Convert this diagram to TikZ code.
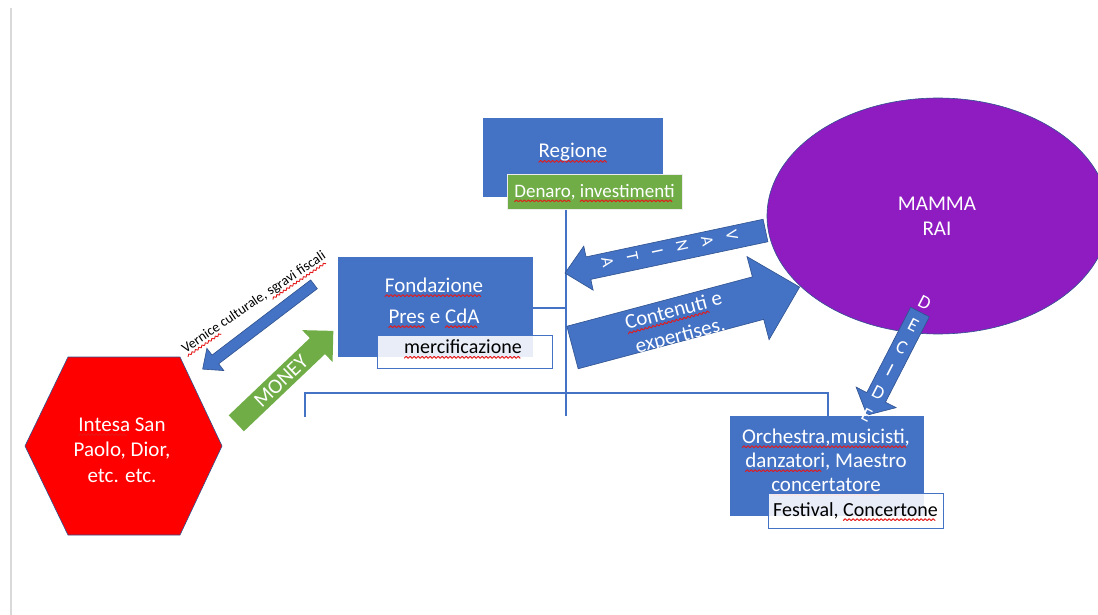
\documentclass[tikz,border=0pt]{standalone}
\usepackage{fontspec}
\setmainfont{Carlito}
\usetikzlibrary{shapes.geometric}
\newsavebox\wavebox
\newsavebox\spellbox
\sbox\wavebox{\hbox to 4pt{\special{pdf:content q 0.9 0.1 0.1 RG 0.9 w 1 j 0 0 m 2 2 l 4 0 l S Q}\hfil}}
\newcommand\spell[1]{\sbox\spellbox{#1}\rlap{\raisebox{-4.5pt}[0pt][0pt]{\hbox to \wd\spellbox{\leaders\copy\wavebox\hfill}}}\usebox\spellbox}
\definecolor{pblue}{HTML}{4472C4}
\definecolor{pdark}{HTML}{2F528F}
\definecolor{pgreen}{HTML}{70AD47}
\definecolor{ppurple}{RGB}{142,28,192}
\definecolor{pgray}{HTML}{D9D9D9}
\newcommand\fsmain{\fontsize{21}{25.6}\selectfont}
\newcommand\fstag{\fontsize{20}{24}\selectfont}
% block arrow: style, tail coordinate, angle, length, shaft width, head width, head length
\newcommand\blockarrow[7]{%
  \begin{scope}[shift={(#2)},rotate=#3]
    \path[#1] (0,{-#5/2}) -- ({#4-#7},{-#5/2}) -- ({#4-#7},{-#6/2}) -- (#4,0)
      -- ({#4-#7},{#6/2}) -- ({#4-#7},{#5/2}) -- (0,{#5/2}) -- cycle;
  \end{scope}}
\begin{document}
\begin{tikzpicture}[x=1pt,y=-1pt,
  bluebox/.style={fill=pblue, draw=none, inner sep=0pt, outer sep=0pt},
  tagbox/.style={fill=white, fill opacity=0.88, text opacity=1, draw=pblue, line width=1pt, inner sep=0pt, text=black, font=\fstag},
  wtext/.style={text=white, font=\fsmain, inner sep=0pt, align=center},
  conn/.style={draw=pblue, line width=1.4pt},
  bluearrow/.style={fill=pblue, draw=pdark, line width=0.6pt},
  greenarrow/.style={fill=pgreen},
  vletter/.style={text=white, font=\fontsize{17}{17}\selectfont, inner sep=0pt, rotate=-78},
  dletter/.style={text=white, font=\fontsize{19}{19}\selectfont, inner sep=0pt, rotate=-27.2}]
\useasboundingbox (0,0) rectangle (1098,615);
\fill[white] (0,0) rectangle (1098,615);
\draw[pgray, line width=2pt] (11,8) -- (11,615);

% coordinates of the connector lines
\coordinate (hub) at (566,393);
\coordinate (hubbot) at (566,416);
\coordinate (fondj) at (566,308);
\coordinate (bl) at (305,417);
\coordinate (br) at (828,417);

% boxes
\node[bluebox, minimum width=180pt, minimum height=79pt] (regione) at (573,157.5) {};
\node[wtext] (regioneL) at (573,152.5) {\spell{Regione}};
\node[fill=pgreen, draw=white!85!gray, line width=1pt, minimum width=175pt, minimum height=34pt,
      inner sep=0pt, text=white, font=\fontsize{19}{22}\selectfont] (denaro) at (594.5,192) {\spell{Denaro}, \spell{investimenti}};

\node[bluebox, minimum width=195pt, minimum height=100pt] (fondazione) at (435.5,307) {};
\node[wtext] (fond1) at (434,285) {\spell{Fondazione}};
\node[wtext] (fond2) at (434,316) {\spell{Pres} e \spell{CdA}};

% connector lines
\draw[conn] (denaro.south -| hub) -- (hubbot);
\draw[conn] (fondazione.east |- fondj) -- (fondj);
\draw[conn] (bl) -- (bl |- hub) -- (br |- hub) -- (br);

\node[tagbox, minimum width=175pt, minimum height=33pt] (merc) at (464.5,351.5) {};
\node[inner sep=0pt, font=\fstag, text=black] (mercL) at (463,347) {\spell{mercificazione}};

% hexagon
\draw[fill=red, draw=pdark, line width=0.6pt] (25,446) -- (68,357) -- (180,357) -- (222,446) -- (180,535) -- (68,535) -- cycle;
\node[wtext] (intesa) at (122,450) {\spell{Intesa} San\\Paolo, Dior,\\etc. etc.};

% ellipse
\node[ellipse, fill=ppurple, draw=pdark, line width=0.6pt, minimum width=342pt, minimum height=236pt, inner sep=0pt] (rai) at (938,216) {};
\node[wtext, font=\fontsize{21}{25}\selectfont] (raiL) at (937,216) {MAMMA\\RAI};

% orchestra
\node[bluebox, minimum width=194pt, minimum height=100pt] (orchestra) at (827,466) {};
\node[wtext, font=\fontsize{21}{24}\selectfont] (orchL) at (826,460) {\spell{Orchestra,musicisti,}\\\spell{danzatori}, Maestro\\\spell{concertatore}};
\node[tagbox, minimum width=175pt, minimum height=35pt] (festival) at (855.5,510.5) {Festival, \spell{Concertone}};

% block arrows
\coordinate (vanitaTail) at (765.5,230.5);
\coordinate (contTail) at (572.5,347.5);
\coordinate (vernTail) at (314,284.3);
\coordinate (moneyTail) at (236.3,423.3);
\coordinate (decideTail) at (920,312);
\blockarrow{bluearrow}{vanitaTail}{192}{205}{23}{45}{24}
\blockarrow{bluearrow}{contTail}{14.9}{235}{44}{86}{43}
\blockarrow{bluearrow}{vernTail}{217.3}{140}{11}{28}{16}
\blockarrow{greenarrow}{moneyTail}{43.6}{134}{22}{44}{22}
\blockarrow{bluearrow}{decideTail}{242.8}{116}{21}{45}{20}

% arrow texts
\node[wtext, rotate=14.9] (contL) at (677,324) {\spell{Contenuti} e\\expertises.};
\node[wtext, rotate=43.6] (moneyL) at (281,381) {MONEY};
\node[inner sep=0pt, rotate=34, font=\fontsize{14}{16}\selectfont, text=black] (vernL) at (254,302.5) {\spell{Vernice} culturale, \spell{sgravi fiscali}};

\node[vletter] (v1) at (732,235.5) {V};
\node[vletter] (v2) at (707.1,240.8) {A};
\node[vletter] (v3) at (682.2,246.1) {N};
\node[vletter] (v4) at (657.3,251.4) {I};
\node[vletter] (v5) at (632.4,256.7) {T};
\node[vletter] (v6) at (607.5,262) {A};

\node[dletter] (d1) at (924.6,303) {D};
\node[dletter] (d2) at (913.2,325.4) {E};
\node[dletter] (d3) at (901.6,347.8) {C};
\node[dletter] (d4) at (890,370.2) {I};
\node[dletter] (d5) at (878.4,392.6) {D};
\node[dletter] (d6) at (866.8,415) {E};
\end{tikzpicture}
\end{document}
